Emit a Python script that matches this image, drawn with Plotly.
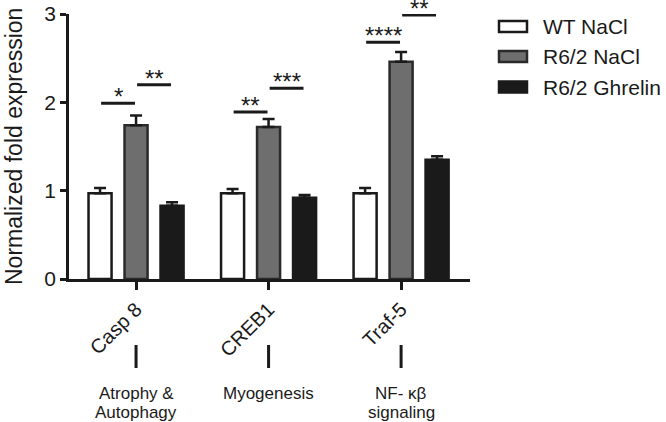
import plotly.graph_objects as go

# ---- data ----
genes = ["Casp 8", "CREB1", "Traf-5"]
series_names = ["WT NaCl", "R6/2 NaCl", "R6/2 Ghrelin"]
wt_nacl = [0.97, 0.97, 0.97]
wt_nacl_err = [0.06, 0.05, 0.06]
r62_nacl = [1.74, 1.72, 2.46]
r62_nacl_err = [0.11, 0.09, 0.11]
r62_ghrelin = [0.83, 0.92, 1.35]
r62_ghrelin_err = [0.04, 0.03, 0.04]
y_ticks = [0, 1, 2, 3]
pathway_line1 = ["Atrophy &", "Myogenesis", "NF- κβ"]
pathway_line2 = ["Autophagy", "", "signaling"]
# significance: gene index, from series, to series, bar height, label
sig_gene = [0, 0, 1, 1, 2, 2]
sig_from = [0, 1, 0, 1, 0, 1]
sig_to = [1, 2, 1, 2, 1, 2]
sig_y = [1.99, 2.20, 1.89, 2.16, 2.68, 2.99]
sig_label = ["*", "**", "**", "***", "****", "**"]

FONT = "Liberation Sans, Arial, Helvetica, sans-serif"
fills = ["#ffffff", "#6e6e6e", "#1a1a1a"]
lines_c = ["#1a1a1a", "#2a2a2a", "#1a1a1a"]

# layout geometry (pixels)
W, H = 666, 422
L, R, T, B = 69, 196, 14, 143
pw, ph = W - L - R, H - T - B
def px_x(px):
    return (px - L) / pw
def px_y(py):
    return (H - B - py) / ph

bargap = 0.185
bargroupgap = 0.36
slot = (1 - bargap) / 3

fig = go.Figure()
vals = [wt_nacl, r62_nacl, r62_ghrelin]
errs = [wt_nacl_err, r62_nacl_err, r62_ghrelin_err]
xs = list(range(len(genes)))
for i in range(3):
    fig.add_trace(go.Bar(
        x=xs, y=vals[i], name=series_names[i],
        marker=dict(color=fills[i], line=dict(color=lines_c[i], width=2.5)),
        error_y=dict(type="data", array=errs[i], arrayminus=[0] * len(genes),
                     symmetric=False, color="#1a1a1a", thickness=2.5, width=6),
        showlegend=False,
    ))

shapes = []
annotations = []
# significance bars
for g, a, b, yv, lab in zip(sig_gene, sig_from, sig_to, sig_y, sig_label):
    x0 = g + (a - 1) * slot + 0.008
    x1 = g + (b - 1) * slot - 0.008
    shapes.append(dict(type="line", xref="x", yref="y", x0=x0, x1=x1, y0=yv, y1=yv,
                       line=dict(color="#1a1a1a", width=3)))
    annotations.append(dict(x=(x0 + x1) / 2, y=yv, xref="x", yref="y", text=lab,
                            showarrow=False, yanchor="bottom", yshift=-9,
                            font=dict(family=FONT, size=24, color="#1a1a1a")))

# pathway markers and labels
for i in range(len(genes)):
    shapes.append(dict(type="line", xref="x", yref="paper", x0=i, x1=i,
                       y0=px_y(345), y1=px_y(368), line=dict(color="#1a1a1a", width=3)))
    annotations.append(dict(x=i, y=px_y(393), xref="x", yref="paper", text=pathway_line1[i],
                            showarrow=False, yanchor="middle", xanchor="center",
                            font=dict(family=FONT, size=17, color="#1a1a1a")))
    if pathway_line2[i]:
        annotations.append(dict(x=i, y=px_y(412), xref="x", yref="paper", text=pathway_line2[i],
                                showarrow=False, yanchor="middle", xanchor="center",
                                font=dict(family=FONT, size=17, color="#1a1a1a")))

# custom legend
leg_y = [26.5, 56.5, 87]
for i in range(3):
    shapes.append(dict(type="rect", xref="paper", yref="paper",
                       x0=px_x(499), x1=px_x(527), y0=px_y(leg_y[i] - 5.5), y1=px_y(leg_y[i] + 5.5),
                       fillcolor=fills[i], line=dict(color=lines_c[i], width=2.5)))
    annotations.append(dict(x=px_x(541), y=px_y(leg_y[i]), xref="paper", yref="paper",
                            text=series_names[i], showarrow=False, xanchor="left", yanchor="middle",
                            font=dict(family=FONT, size=21, color="#1a1a1a")))

# y-axis title
annotations.append(dict(x=px_x(14), y=px_y(147), xref="paper", yref="paper",
                        text="Normalized fold expression", textangle=-90, showarrow=False,
                        xanchor="center", yanchor="middle",
                        font=dict(family=FONT, size=23, color="#1a1a1a")))

fig.update_layout(
    width=W, height=H,
    margin=dict(l=L, r=R, t=T, b=B),
    paper_bgcolor="white", plot_bgcolor="white",
    barmode="group", bargap=bargap, bargroupgap=bargroupgap,
    shapes=shapes, annotations=annotations,
    font=dict(family=FONT, color="#1a1a1a"),
    xaxis=dict(range=[-0.506, 2.52], tickmode="array", tickvals=xs, ticktext=genes,
               tickangle=-45, ticks="outside", ticklen=8, tickwidth=2.5, tickcolor="#1a1a1a",
               showline=True, linecolor="#1a1a1a", linewidth=2.5, showgrid=False, zeroline=False,
               automargin=False,
               tickfont=dict(family=FONT, size=20, color="#1a1a1a")),
    yaxis=dict(range=[0, 3], tickmode="array", tickvals=y_ticks,
               ticks="outside", ticklen=6, tickwidth=2.5, tickcolor="#1a1a1a",
               showline=True, linecolor="#1a1a1a", linewidth=2.5, showgrid=False, zeroline=False,
               automargin=False,
               tickfont=dict(family=FONT, size=21, color="#1a1a1a")),
)

fig.write_html("out.html", config={"displayModeBar": False},
               post_script="document.body.style.margin='0';document.body.style.overflow='hidden';")
